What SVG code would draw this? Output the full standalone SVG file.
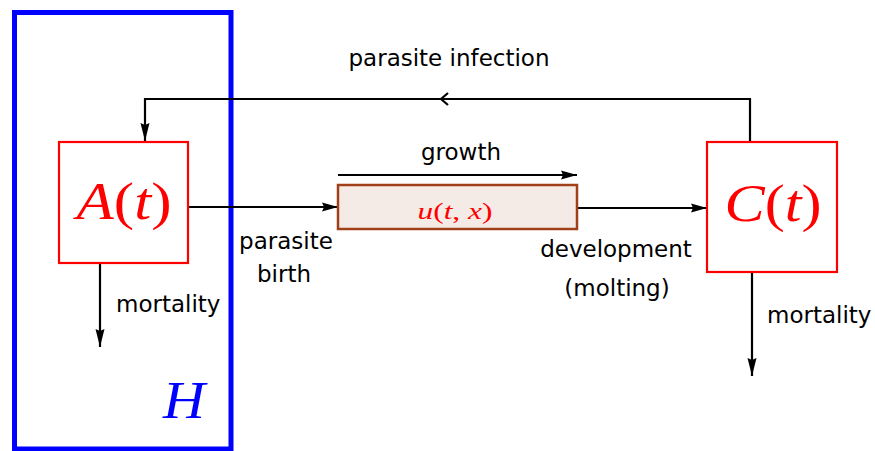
<svg xmlns="http://www.w3.org/2000/svg" width="875" height="451" viewBox="0 0 875 451">
<style>
.lbl{font-family:"DejaVu Sans",sans-serif;font-size:23px;fill:#000}
.math{font-family:"Liberation Serif",serif;fill:#ff0000}
.it{font-style:italic}
.ln{stroke:#000;stroke-width:2.2;fill:none}
.box{fill:#fff;stroke:#ff0000;stroke-width:2.2}
</style>
<defs>
<marker id="ah" viewBox="0 0 16 10" refX="16" refY="5" markerWidth="16" markerHeight="10" markerUnits="userSpaceOnUse" orient="auto">
<path d="M0,0.5 L16,5 L0,9.5 L2,5 Z" fill="#000"/>
</marker>
<marker id="ahv" viewBox="0 0 18 10" refX="18" refY="5" markerWidth="18" markerHeight="10" markerUnits="userSpaceOnUse" orient="auto">
<path d="M0,0.5 L18,5 L0,9.5 L2,5 Z" fill="#000"/>
</marker>
</defs>
<g id="host">
<path d="M14.5,12.5 L231,12.5 L231,449 L14.5,449 Z" fill="none" stroke="#0000ff" stroke-width="5"/>
<text x="163" y="418" class="it" style="font-family:'Liberation Serif',serif;font-size:52px;fill:#0000ff" textLength="42" lengthAdjust="spacingAndGlyphs">H</text>
</g>
<g id="connectors">
<polyline class="ln" points="750,142 750,99 145,99 145,141" marker-end="url(#ahv)"/>
<path d="M448,93 L441,99 L448,105" class="ln" stroke-width="2"/>
<line class="ln" x1="189" y1="207" x2="338" y2="207" marker-end="url(#ah)"/>
<line class="ln" x1="577" y1="208" x2="707" y2="208" marker-end="url(#ah)"/>
<line class="ln" x1="338" y1="175" x2="577" y2="175" marker-end="url(#ah)"/>
<line class="ln" x1="100" y1="263" x2="100" y2="347" marker-end="url(#ahv)"/>
<line class="ln" x1="752" y1="272" x2="752" y2="376" marker-end="url(#ahv)"/>
<text class="lbl" x="449" y="66" text-anchor="middle">parasite infection</text>
<text class="lbl" x="461" y="160" text-anchor="middle">growth</text>
<text class="lbl" x="286" y="249" text-anchor="middle">parasite</text>
<text class="lbl" x="284" y="282" text-anchor="middle">birth</text>
<text class="lbl" x="616" y="257" text-anchor="middle">development</text>
<text class="lbl" x="617" y="296" text-anchor="middle">(molting)</text>
<text class="lbl" x="116" y="312">mortality</text>
<text class="lbl" x="767" y="323">mortality</text>
</g>
<g id="A">
<rect class="box" x="59" y="142" width="129" height="121"/>
<text class="math" x="124" y="219" text-anchor="middle" font-size="52" textLength="95" lengthAdjust="spacingAndGlyphs"><tspan class="it">A</tspan>(<tspan class="it">t</tspan>)</text>
</g>
<g id="u">
<rect x="338" y="185" width="239" height="44" fill="#f5ebe6" stroke="#a0401a" stroke-width="2.5"/>
<text class="math" x="455" y="219" text-anchor="middle" font-size="23" textLength="75" lengthAdjust="spacingAndGlyphs"><tspan class="it">u</tspan>(<tspan class="it">t</tspan>, <tspan class="it">x</tspan>)</text>
</g>
<g id="C">
<rect class="box" x="707" y="142" width="130" height="130"/>
<text class="math" x="773" y="221" text-anchor="middle" font-size="52" textLength="97" lengthAdjust="spacingAndGlyphs"><tspan class="it">C</tspan>(<tspan class="it">t</tspan>)</text>
</g>
</svg>
